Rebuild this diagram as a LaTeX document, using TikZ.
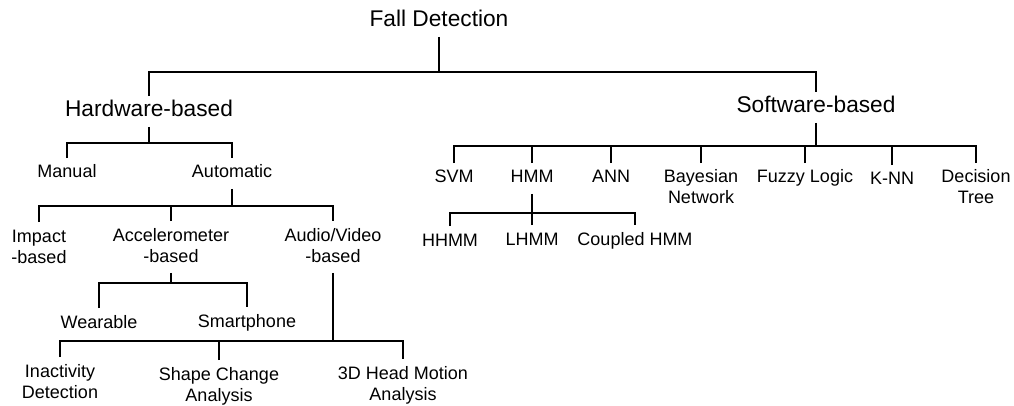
\documentclass[tikz,border=0pt]{standalone}
\usepackage{fontspec}
\setmainfont{Liberation Sans}

\begin{document}
\begin{tikzpicture}[x=1pt, y=-1pt, line width=1.6pt,
  lbl/.style={anchor=base, align=center, font=\fontsize{18}{21}\selectfont, inner xsep=0pt, inner ysep=6pt, text height=13pt, text depth=4pt},
  two/.style={text height=34pt},
  head/.style={anchor=base, font=\fontsize{22.7}{27}\selectfont, inner xsep=0pt, inner ysep=4pt, text height=16pt, text depth=5pt}]
\useasboundingbox (0,0) rectangle (1014,406);
% top levels
\node[head] (fd) at (439,27) {Fall Detection};
\node[head] (hw) at (149,117) {Hardware-based};
\node[head] (sw) at (816,113) {Software-based};
\coordinate (fdbus) at (439,72);
\draw (fd.south) -- (fdbus);
\draw (hw.north) |- (fdbus) -| (sw.north);
% hardware side
\node[lbl] (manual) at (67,178) {Manual};
\node[lbl] (auto) at (232,178) {Automatic};
\coordinate (hwbus) at (149,143);
\draw (hw.south) -- (hwbus);
\draw (manual.north) |- (hwbus) -| (auto.north);
\node[lbl, two] (impact) at (39,263) {Impact\\-based};
\node[lbl, two] (acc) at (171,262) {Accelerometer\\-based};
\node[lbl, two] (av) at (333,262) {Audio/Video\\-based};
\coordinate (autobus) at (232,206);
\draw (auto.south) -- (autobus);
\draw (impact.north) |- (autobus) -| (av.north);
\draw (acc.north) -- (acc.north |- autobus);
\node[lbl] (wear) at (99,328) {Wearable};
\node[lbl] (smart) at (247,327) {Smartphone};
\coordinate (accbus) at (171,283);
\draw (acc.south) -- (accbus);
\draw (wear.north) |- (accbus) -| (smart.north);
\node[lbl, two] (inact) at (60,398) {Inactivity\\Detection};
\node[lbl, two] (shape) at (219,401) {Shape Change\\Analysis};
\node[lbl, two] (hmotion) at (403,400) {3D Head Motion\\Analysis};
\coordinate (avbus) at (333,341);
\draw (av.south) -- (avbus);
\draw (inact.north) |- (avbus) -| (hmotion.north);
\draw (shape.north) -- (shape.north |- avbus);
% software side
\node[lbl] (svm) at (454,183) {SVM};
\node[lbl] (hmm) at (532,183) {HMM};
\node[lbl] (ann) at (611,183) {ANN};
\node[lbl, two] (bayes) at (701,204) {Bayesian\\Network};
\node[lbl] (fuzzy) at (805,183) {Fuzzy Logic};
\node[lbl] (knn) at (892,185) {K-NN};
\node[lbl, two] (dtree) at (976,204) {Decision\\Tree};
\coordinate (swbus) at (816,146);
\draw (sw.south) -- (swbus);
\draw (svm.north) |- (swbus) -| (dtree.north);
\foreach \n in {hmm, ann, bayes, fuzzy, knn}{\draw (\n.north) -- (\n.north |- swbus);}
\node[lbl] (hhmm) at (450,246) {HHMM};
\node[lbl] (lhmm) at (532,245) {LHMM};
\node[lbl] (chmm) at (635,245) {Coupled HMM};
\coordinate (hmmbus) at (532,213);
\draw (hmm.south) -- (hmmbus);
\draw (hhmm.north) |- (hmmbus) -| (chmm.north);
\draw (lhmm.north) -- (lhmm.north |- hmmbus);
\end{tikzpicture}
\end{document}
